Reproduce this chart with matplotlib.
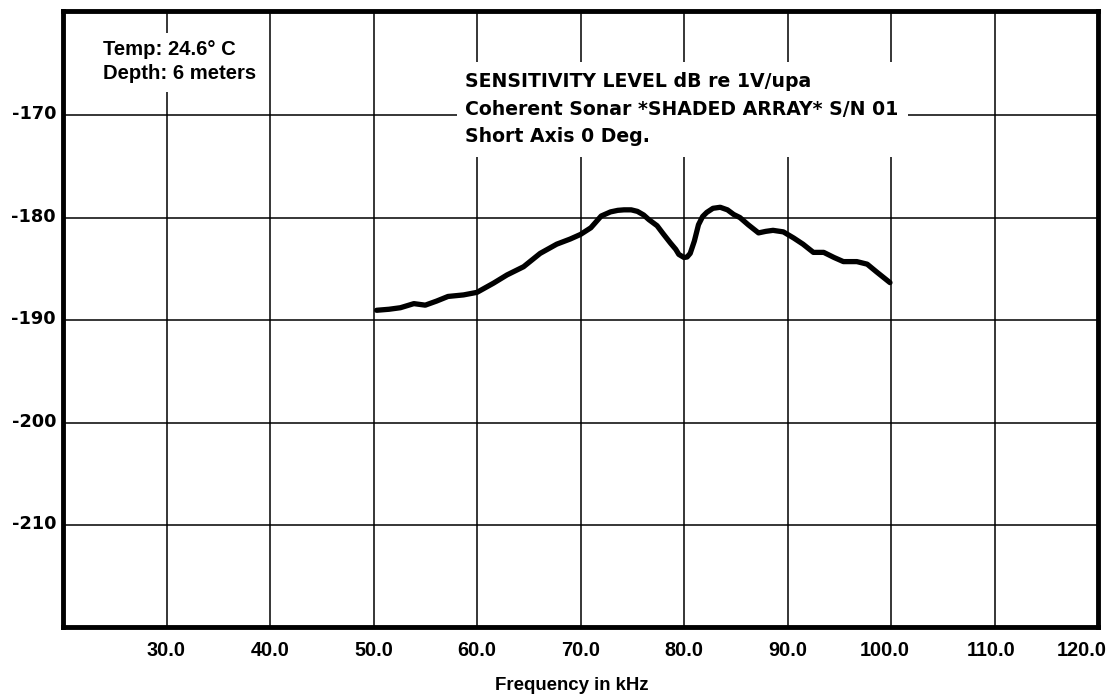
import matplotlib
matplotlib.use("Agg")
import matplotlib.pyplot as plt
from matplotlib.patches import Rectangle
from matplotlib.transforms import ScaledTranslation

freq = [50.3, 51.5, 52.6, 53.9, 55.0, 56.1, 57.2, 58.7, 60.0, 61.6, 62.9, 64.5,
        66.1, 67.7, 69.0, 70.0, 71.0, 72.0, 72.9, 73.6, 74.2, 74.9, 75.5, 76.1,
        76.6, 77.4, 78.0, 78.7, 79.2, 79.5, 80.0, 80.3, 80.6, 81.0, 81.4, 81.8,
        82.2, 82.8, 83.5, 84.2, 84.8, 85.4, 86.2, 87.2, 87.9, 88.6, 89.6, 90.6,
        91.5, 92.5, 93.5, 94.5, 95.4, 96.7, 97.7, 98.6, 99.9]
level = [-189.05, -188.95, -188.8, -188.4, -188.55, -188.15, -187.7, -187.55,
         -187.3, -186.4, -185.6, -184.8, -183.5, -182.6, -182.1, -181.65, -181.0,
         -179.85, -179.45, -179.3, -179.25, -179.25, -179.4, -179.75, -180.2, -180.8,
         -181.6, -182.5, -183.1, -183.6, -183.9, -183.85, -183.5, -182.3, -180.7,
         -179.9, -179.5, -179.1, -179.0, -179.25, -179.7, -180.0, -180.7, -181.5,
         -181.35, -181.25, -181.4, -182.0, -182.6, -183.4, -183.4, -183.9, -184.3,
         -184.3, -184.55, -185.3, -186.35]

x_ticks = [30, 40, 50, 60, 70, 80, 90, 100, 110, 120]
x_tick_labels = ["30.0", "40.0", "50.0", "60.0", "70.0", "80.0", "90.0", "100.0", "110.0", "120.0"]
y_ticks = [-170, -180, -190, -200, -210]
y_tick_labels = ["-170", "-180", "-190", "-200", "-210"]
note_lines = ["Temp: 24.6\u00b0 C", "Depth: 6 meters"]
title_lines = ["SENSITIVITY LEVEL dB re 1V/upa",
               "Coherent Sonar *SHADED ARRAY* S/N 01",
               "Short Axis 0 Deg."]
x_label = "Frequency in kHz"

W, H = 1118, 696
fig = plt.figure(figsize=(W / 100, H / 100), dpi=100)


def fx(px):
    return px / W


def fy(py):
    return 1 - py / H


ax = fig.add_axes([fx(63), fy(627), fx(1098) - fx(63), fy(11) - fy(627)])
ax.set_xlim(20, 120)
ax.set_ylim(-219.95, -159.85)

ax.set_xticks(x_ticks)
ax.set_xticklabels(x_tick_labels, fontsize=14.3, fontweight='bold',
                   family=['Liberation Sans', 'DejaVu Sans'])
ax.set_yticks(y_ticks)
ax.set_yticklabels(y_tick_labels, fontsize=12.8, fontweight='bold',
                   family=['DejaVu Sans'])
ax.tick_params(axis='x', length=0, pad=10)
ax.tick_params(axis='y', length=0, pad=5)
ax.grid(True, color='black', linewidth=1.1)
ax.set_axisbelow(True)
for s in ax.spines.values():
    s.set_linewidth(3.5)
    s.set_color('black')

# small nudges of tick labels, in pixels
x_nudge = {100: -6, 110: -3, 120: -16}
for t, lab in zip(x_ticks, ax.get_xticklabels()):
    if t in x_nudge:
        lab.set_transform(lab.get_transform() +
                          ScaledTranslation(x_nudge[t] / 100, 0, fig.dpi_scale_trans))
for lab in ax.get_yticklabels():
    lab.set_transform(lab.get_transform() +
                      ScaledTranslation(0, 3 / 100, fig.dpi_scale_trans))

ax.plot(freq, level, color='black', linewidth=3.8, solid_capstyle='round',
        solid_joinstyle='round', zorder=3)

# white backgrounds behind the annotations (they interrupt the grid)
fig.add_artist(Rectangle((fx(95), fy(92)), fx(262) - fx(95), fy(33) - fy(92),
                         transform=fig.transFigure, facecolor='white',
                         edgecolor='none', zorder=2))
fig.add_artist(Rectangle((fx(457), fy(157)), fx(908) - fx(457), fy(62) - fy(157),
                         transform=fig.transFigure, facecolor='white',
                         edgecolor='none', zorder=2))

for line, base in zip(note_lines, [55, 79]):
    fig.text(fx(103), fy(base), line, fontsize=14.6, fontweight='bold',
             family=['Liberation Sans', 'DejaVu Sans'], ha='left', va='baseline', zorder=5)

for line, base in zip(title_lines, [87, 115, 142]):
    fig.text(fx(465), fy(base), line, fontsize=13.6, fontweight='bold',
             family=['DejaVu Sans'], ha='left', va='baseline', zorder=5)

fig.text(fx(572), fy(690), x_label, fontsize=13.4, fontweight='bold',
         family=['Liberation Sans', 'DejaVu Sans'], ha='center', va='baseline')

fig.savefig("out.png", dpi=100, facecolor='white')
